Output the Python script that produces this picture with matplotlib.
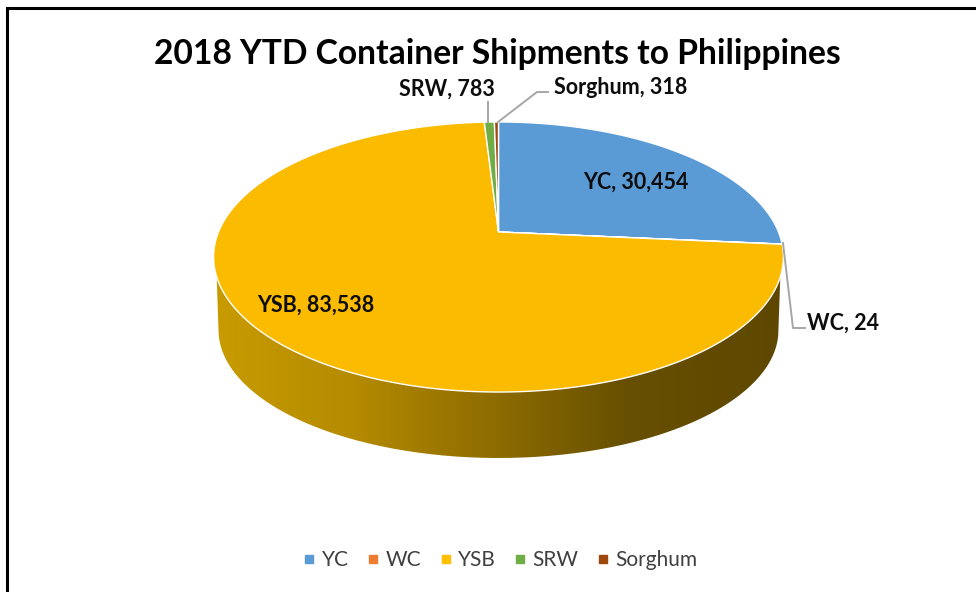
import numpy as np
import matplotlib
matplotlib.use("Agg")
import matplotlib.pyplot as plt
from matplotlib.colors import LinearSegmentedColormap
from matplotlib.lines import Line2D
from matplotlib.path import Path
from matplotlib.patches import PathPatch
from matplotlib.transforms import Transform, Affine2D

categories = ["YC", "WC", "YSB", "SRW", "Sorghum"]
values = [30454, 24, 83538, 783, 318]
colors = ["#5B9BD5", "#ED7D31", "#FBBB00", "#70AD47", "#9E480E"]
legend_colors = ["#5B9BD5", "#ED7D31", "#FFC000", "#70AD47", "#9E480E"]
title = "2018 YTD Container Shipments to Philippines"

plt.rcParams["font.family"] = ["Lato", "DejaVu Sans"]
W, H = 976, 592
fig = plt.figure(figsize=(W / 100, H / 100), dpi=100)
ax = fig.add_axes([0, 0, 1, 1])

CX, CY, B, A, K = 498.5, 232.0, 280.0, 130.4, 0.1852


class Tilt(Transform):
    """Perspective view of the unit pie plane, in pixel-like data units."""
    input_dims = output_dims = 2
    is_separable = False
    has_inverse = False

    def transform_non_affine(self, pts):
        pts = np.asarray(pts, float)
        d = 1 + K * pts[:, 1]
        return np.column_stack([CX + B * pts[:, 0] / d, CY - A * pts[:, 1] / d])

    def transform_path_non_affine(self, path):
        polys = path.to_polygons(Affine2D().scale(3000), closed_only=False)
        pts = np.vstack(polys) / 3000
        return Path(self.transform_non_affine(pts))


tilt = Tilt()

# side wall (gradient clipped to the rim)
t = np.linspace(np.pi + 0.15, 2 * np.pi - 0.15, 200)
top_x = 498.5 + 285 * np.cos(t)
top_y = 257 - 135 * np.sin(t)
b = np.linspace(2 * np.pi, np.pi, 200)
bot_x = 498.5 + 280 * np.cos(b)
bot_y = 330 - 128 * np.sin(b)
side = Path(np.column_stack([np.r_[top_x, bot_x], np.r_[top_y, bot_y]]))
side_cmap = LinearSegmentedColormap.from_list(
    "side",
    [(0.0, "#C89B00"), (0.24, "#B58B00"), (0.50, "#8C6B00"), (0.72, "#675000"), (1.0, "#5E4700")],
)
img = ax.imshow(np.linspace(0, 1, 300)[None, :], cmap=side_cmap, aspect="auto",
                extent=(215, 783, 460, 270), zorder=1)
clip = PathPatch(side, transform=ax.transData, facecolor="none", edgecolor="none")
ax.add_patch(clip)
img.set_clip_path(clip)

wedges, _ = ax.pie(values, colors=colors, startangle=90, counterclock=False, radius=1,
                   wedgeprops=dict(edgecolor="white", linewidth=1.0))
for w in wedges:
    w.set_transform(tilt + ax.transData)
    w.set_zorder(2)

ax.set_aspect("auto")
ax.set_xlim(0, W)
ax.set_ylim(H, 0)
ax.set_axis_off()

# frame
ax.plot([7, 7, W], [H, 8, 8], color="black", lw=2.2, solid_joinstyle="miter", zorder=5)

# leader lines
lc = "#A6A6A6"
ax.plot([488, 488], [122, 102], color=lc, lw=1.4, zorder=3)
ax.plot([498, 537, 548], [122, 92, 92], color=lc, lw=1.4, zorder=3)
ax.plot([783, 793, 805], [243, 328, 328], color=lc, lw=1.4, zorder=3)

txt = "#0D0D0D"
ax.text(497, 54.5, title, ha="center", va="center", fontsize=24.2, fontweight="bold", color="black")
lab = dict(ha="center", va="center", fontsize=15.5, fontweight="bold", color=txt, zorder=4)
ax.text(446.5, 89, f"{categories[3]}, {values[3]:,}", **lab)
ax.text(621, 87, f"{categories[4]}, {values[4]:,}", **lab)
ax.text(636, 182, f"{categories[0]}, {values[0]:,}", **lab)
ax.text(316, 305, f"{categories[2]}, {values[2]:,}", **lab)
ax.text(843, 323, f"{categories[1]}, {values[1]:,}", **lab)

handles = [Line2D([], [], marker="s", ls="none", ms=5.6, color=c, label=n)
           for c, n in zip(legend_colors, categories)]
ax.legend(handles=handles, ncol=5, frameon=False, loc="center",
          bbox_to_anchor=(501.5 / W, 1 - 560.5 / H), fontsize=15,
          labelcolor="#404040", handlelength=0.385, handletextpad=0.385,
          columnspacing=1.0, borderpad=0, borderaxespad=0)

fig.savefig("out.png", dpi=100, facecolor="white")
